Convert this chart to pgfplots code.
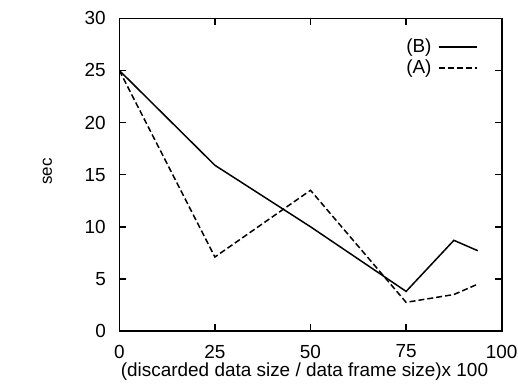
\documentclass[border=0pt]{standalone}
\usepackage{fontspec}
\setmainfont{Liberation Sans}
\usepackage{pgfplots}
\pgfplotsset{compat=1.18}
\begin{document}
\begin{tikzpicture}
\useasboundingbox (-119.3bp,-53bp) rectangle (398.7bp,331bp);
\begin{axis}[
  scale only axis,
  width=382.4bp, height=312.7bp,
  at={(0,0)}, anchor=south west,
  xmin=0, xmax=100, ymin=0, ymax=30,
  xtick={0,25,50,75,100},
  ytick={0,5,10,15,20,25,30},
  tick pos=both,
  tick align=inside,
  major tick length=7bp,
  axis line style={line width=1.6pt, black},
  major tick style={line width=1.6pt, draw=black},
  /pgf/number format/assume math mode=true,
  ticklabel style={font=\fontsize{19}{22}\selectfont},
  xticklabel style={anchor=center, yshift=-20.5bp},
  yticklabel style={anchor=east, xshift=-10bp},
  xlabel={(discarded data size / data frame size)x 100},
  ylabel={sec},
  xlabel style={font=\fontsize{19}{22}\selectfont, at={([xshift=-6bp,yshift=-41bp]axis description cs:0.5,0)}, anchor=center},
  ylabel style={font=\fontsize{17}{20}\selectfont, at={([xshift=-72bp,yshift=3bp]axis description cs:0,0.5)}, anchor=center},
  legend style={draw=none, fill=none, at={(rel axis cs:0.945,0.945)}, anchor=north east,
    font=\fontsize{19}{22}\selectfont, row sep=2bp, column sep=6bp,
    nodes={inner sep=0.5bp, text height=14bp, text depth=4bp}},
  legend plot pos=right,
  legend cell align=right,
  legend image code/.code={\draw[#1] (0bp,0bp) -- (38bp,0bp);},
]
\addplot[black, line width=1.5pt] coordinates {
(0,25) (25,15.9) (50,10.0) (75,3.8) (87.5,8.7) (93.75,7.7)
};
\addlegendentry{(B)}
\addplot[black, line width=1.5pt, dash pattern=on 6bp off 3bp] coordinates {
(0,25) (25,7.1) (50,13.5) (75,2.75) (87.5,3.5) (93.75,4.5)
};
\addlegendentry{(A)}
\end{axis}
\end{tikzpicture}
\end{document}
